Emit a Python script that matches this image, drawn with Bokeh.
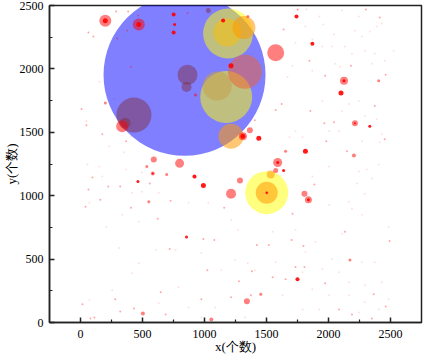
from bokeh.plotting import figure
from bokeh.models import Range1d, FixedTicker
from bokeh.embed import file_html
from bokeh.resources import INLINE

# ---------------- data ----------------
x_ticks = [0, 500, 1000, 1500, 2000, 2500]
y_ticks = [0, 500, 1000, 1500, 2000, 2500]
x_minor = [250, 750, 1250, 1750, 2250]
y_minor = [250, 750, 1250, 1750, 2250]

blue_x = [839]
blue_y = [1953]
blue_s = [162]

yellow_x = [1190, 1175, 1502]
yellow_y = [2279, 1779, 1024]
yellow_s = [50, 52, 43]

gold_x = [1183, 1103]
gold_y = [2287, 1866]
gold_s = [28, 29]

orange_x = [1318, 1214, 1502, 1534]
orange_y = [2326, 1469, 1024, 1167]
orange_s = [23, 25, 22, 8]

vermilion_x = [1326]
vermilion_y = [1977]
vermilion_s = [34]

maroon_x = [863, 855, 431, 360, 1031]
maroon_y = [1953, 1858, 1636, 1572, 2461]
maroon_s = [20, 10, 35, 11, 5]

red_x = [200, 470, 1574, 2125, 2213, 1590, 1574, 1806, 1838, 336, 799, 591, 583, 535,
         695, 1214, 1286, 1366, 1342, 503, 1454, 2173, 551, 200, 927, 1350, 2405, 1654, 2205,
         1310, 1055, 1502]
red_y = [2380, 2350, 2128, 1906, 1572, 1262, 1199, 1016, 969, 1548, 1255, 1286, 1175, 1231,
         1167, 1016, 1120, 1517, 167, 71, 222, 492, 953, 1731, 1794, 2414, 1906, 1350, 1318,
         1469, 24, 1024]
red_s = [12, 12, 17, 8, 6, 9, 5, 6, 7, 12, 9, 6, 4, 3,
         3, 10, 6, 6, 6, 4, 3, 3, 3, 3, 3, 3, 3, 3, 4,
         8, 4, 3]

core_x = [751, 759, 751, 1150, 1214, 1742, 1870, 2101, 2333, 1814, 1638, 1838, 1750, 919, 991,
          463, 855, 1310, 1438, 200, 470, 2125, 1590, 583, 2213, 1502]
core_y = [2430, 2350, 2287, 2382, 2025, 2414, 2199, 1810, 1548, 1350, 1199, 969, 341, 1151, 1080,
          1112, 675, 1469, 1453, 2380, 2350, 1906, 1262, 1175, 1572, 1024]
core_s = [4, 3, 4, 4, 5, 4, 4, 5, 3, 5, 3, 3, 4, 4, 5,
          3, 3, 5, 5, 5, 5, 3, 3, 2, 2, 2]

small_x = [384, 407, 463, 1846, 1966, 1973, 1574, 2373, 2461, 2301, 2413, 2181, 1982, 2453, 2045,
           1854, 1622, 1638, 1750, 2149, 1710, 1702, 2493, 1654, 1734, 1806, 1973, 2085, 2189, 2349,
           2461, 2365, 1798, 2133, 1886, 1550, 1518, 559, 96, 320, 224, 64, 727, 407, 40,
           623, 1159, 991, 1079, 719, 1422, 1382, 1023, 1278, 1374, 687, 647, 280, 320, 16,
           431, 80, 112, 1214, 975, 160, 8, 48, 176, 368, 64, 104, 296, 376, 288,
           863, 927, 1406]
small_y = [2453, 2017, 2422, 2064, 1572, 1945, 1675, 1707, 1953, 2469, 2406, 2025, 1429, 1445, 1580,
           1667, 1723, 2311, 2469, 1350, 858, 651, 643, 341, 437, 437, 310, 103, 64, 32,
           127, 222, 603, 715, 1088, 357, 611, 1096, 1143, 1072, 1072, 1048, 961, 905, 913,
           818, 905, 659, 651, 580, 611, 405, 413, 326, 214, 64, 238, 183, 87, 143,
           111, 32, 40, 199, 183, 969, 1683, 1556, 1485, 1429, 2287, 2255, 2239, 2303, 2453,
           2438, 1143, 1596]

faint_x = [1758, 1822, 1926, 1814, 1958, 2045, 2109, 2245, 2213, 2269, 2333, 2389, 2429, 2525, 2453,
           2373, 2293, 2133, 2093, 2189, 2029, 1950, 1870, 1734, 1710, 1670, 1734, 2109, 2293, 2389,
           2429, 2269, 2085, 2005, 1790, 1686, 2413, 2165, 2245, 1950, 1870, 2053, 2349,
           1870, 2005, 2245, 2405, 2309, 2229, 2349, 2293, 2189, 2269, 2485, 2109, 1894, 1814, 2029,
           2269, 2373, 2085, 1950, 2165, 1870, 2293, 2429, 2005, 2165, 2293, 1926, 1790, 1630, 1574,
           1550, 1734, 2485, 2245, 2405, 1790, 2005, 1630, 2165,
           56, 176, 368, 495, 415, 631, 871, 1031, 1214, 1270, 471, 336, 208, 72, 312,
           471, 607, 791, 975, 1135, 1246, 1350, 415, 256, 72, 631, 871, 1087, 1326, 1406,
           975, 767, 48, 152, 272, 232, 352, 152, 495, 407]
faint_y = [2469, 2469, 2414, 2334, 2350, 2271, 2461, 2414, 2303, 2255, 2295, 2334, 2358, 2144, 2064,
           2120, 2144, 2176, 2017, 2120, 2176, 2176, 2231, 2207, 2025, 1937, 1509, 1667, 1628, 1604,
           1485, 1429, 1509, 1509, 1461, 1461, 1421, 1723, 1747, 1747, 1985, 2041, 2041,
           1151, 1231, 1191, 1247, 1207, 1096, 1135, 1016, 897, 850, 754, 699, 635, 556, 500,
           476, 476, 397, 421, 318, 262, 294, 318, 214, 214, 159, 103, 103, 214, 476,
           715, 730, 183, 79, 103, 397, 929, 953, 953,
           1247, 1151, 1207, 1032, 1024, 1024, 945, 945, 810, 730, 794, 850, 754, 945, 588,
           468, 572, 278, 548, 413, 492, 468, 389, 254, 175, 151, 119, 119, 40, 413,
           40, 572, 1588, 1898, 1763, 1390, 1342, 1231, 1183, 1469]

# ---------------- figure ----------------
p = figure(width=424, height=356,
           x_range=Range1d(-250, 2750), y_range=Range1d(0, 2500),
           output_backend="svg", toolbar_location=None,
           min_border_left=0, min_border_right=3, min_border_top=5, min_border_bottom=0)
p.xgrid.visible = False
p.ygrid.visible = False
p.background_fill_color = "white"
p.border_fill_color = "white"
p.outline_line_color = "#222222"
p.outline_line_width = 1.5
p.outline_line_alpha = 1.0

serif = "Liberation Serif"
for ax, lab in ((p.xaxis[0], "x(个数)"), (p.yaxis[0], "y(个数)")):
    ax.axis_label = lab
    ax.axis_label_text_font = serif
    ax.axis_label_text_font_style = "normal"
    ax.axis_label_text_font_size = "13px"
    ax.axis_label_text_color = "black"
    ax.major_label_text_font = serif
    ax.major_label_text_font_size = "12px"
    ax.major_label_text_color = "black"
    ax.axis_line_color = "#222222"
    ax.axis_line_width = 1.5
    ax.major_tick_line_color = "#222222"
    ax.major_tick_line_width = 1.5
    ax.minor_tick_line_color = "#222222"
    ax.minor_tick_line_width = 1.2
    ax.major_tick_in = 5
    ax.major_tick_out = 0
    ax.minor_tick_in = 3
    ax.minor_tick_out = 0

p.xaxis[0].ticker = FixedTicker(ticks=x_ticks, minor_ticks=x_minor)
p.yaxis[0].ticker = FixedTicker(ticks=y_ticks, minor_ticks=y_minor)
p.xaxis[0].major_label_standoff = 7
p.xaxis[0].axis_label_standoff = -2
p.yaxis[0].major_label_standoff = 6
p.yaxis[0].axis_label_standoff = -2

# ---------------- glyphs ----------------
p.scatter(faint_x, faint_y, size=2, fill_color="red", fill_alpha=0.12, line_color=None)
p.scatter(blue_x, blue_y, size=blue_s, fill_color="blue", fill_alpha=0.5, line_color=None)
p.scatter(yellow_x, yellow_y, size=yellow_s, fill_color="yellow", fill_alpha=0.5, line_color=None)
p.scatter(gold_x, gold_y, size=gold_s, fill_color=["#FFC000", "#C8A048"], fill_alpha=0.5, line_color=None)
p.scatter(orange_x, orange_y, size=orange_s, fill_color="#FF9900", fill_alpha=0.55, line_color=None)
p.scatter(vermilion_x, vermilion_y, size=vermilion_s, fill_color="#F06030", fill_alpha=0.5, line_color=None)
p.scatter(maroon_x, maroon_y, size=maroon_s, fill_color="#803048", fill_alpha=0.5, line_color=None)
p.scatter(small_x, small_y, size=2, fill_color="red", fill_alpha=0.35, line_color=None)
p.scatter(red_x, red_y, size=red_s, fill_color="red", fill_alpha=0.5, line_color=None)
p.scatter(core_x, core_y, size=core_s, fill_color="red", fill_alpha=0.9, line_color=None)

open("out.html", "w").write(file_html(p, INLINE))
